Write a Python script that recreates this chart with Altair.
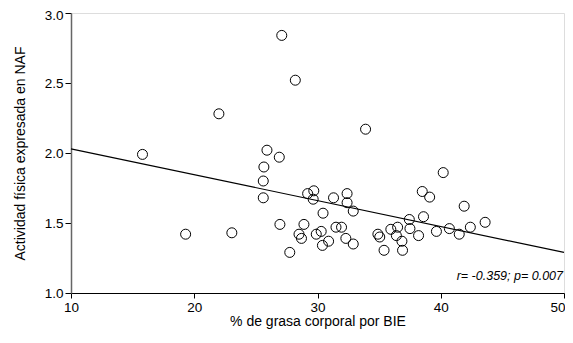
import altair as alt
import pandas as pd

grasa = [15.8, 19.3, 22.0, 23.05, 27.1, 28.2, 25.9, 26.9, 25.65, 25.6, 25.6, 33.9,
         26.95, 27.75, 29.2, 29.7, 29.65, 30.45, 31.3, 32.4, 32.4, 32.9, 28.9, 28.5,
         28.7, 29.9, 30.3, 30.9, 30.4, 31.5, 31.95, 32.3, 32.9, 34.9, 35.05, 35.4,
         35.95, 36.5, 36.4, 36.85, 36.9, 37.5, 37.45, 38.5, 39.1, 38.6, 38.2, 39.65,
         40.2, 41.9, 43.6, 42.4, 40.7, 41.5]
naf = [1.99, 1.42, 2.28, 1.43, 2.84, 2.52, 2.02, 1.97, 1.90, 1.80, 1.68, 2.17,
       1.49, 1.29, 1.71, 1.73, 1.67, 1.57, 1.68, 1.71, 1.645, 1.585, 1.49, 1.42,
       1.39, 1.42, 1.44, 1.37, 1.34, 1.47, 1.47, 1.39, 1.35, 1.42, 1.40, 1.305,
       1.455, 1.47, 1.41, 1.37, 1.305, 1.46, 1.525, 1.725, 1.685, 1.545, 1.41, 1.44,
       1.86, 1.62, 1.505, 1.47, 1.46, 1.42]

line_x = [10, 50]
line_y = [2.03, 1.29]

note_x = [50]
note_y = [1.12]
note_text = ["r= -0.359; p= 0.007"]

x_ticks = [10, 20, 30, 40, 50]
y_ticks = [1.0, 1.5, 2.0, 2.5, 3.0]

FONT = "Liberation Sans"

pts = pd.DataFrame({"x": grasa, "y": naf})
ln = pd.DataFrame({"x": line_x, "y": line_y})
nt = pd.DataFrame({"x": note_x, "y": note_y, "t": note_text})

xscale = alt.Scale(domain=[10, 50], nice=False, zero=False)
yscale = alt.Scale(domain=[1.0, 3.0], nice=False, zero=False)

xaxis = alt.Axis(title="% de grasa corporal por BIE", values=x_ticks, format="d",
                 grid=False, domainColor="black", tickColor="black", tickSize=5,
                 labelFontSize=13.5, titleFontSize=14, labelFont=FONT, titleFont=FONT,
                 labelColor="black", titleColor="black", titleFontWeight="normal",
                 labelFlush=False, labelPadding=2, titlePadding=1,
                 labelAlign=alt.condition("datum.value == 50", alt.value("right"), alt.value("center")),
                 labelOffset=alt.condition("datum.value == 50", alt.value(1), alt.value(0)))
yaxis = alt.Axis(title="Actividad física expresada en NAF", values=y_ticks, format=".1f",
                 grid=False, domainColor="#666666", domainWidth=1.5, tickColor="black", tickSize=6,
                 labelFontSize=13.5, titleFontSize=14, labelFont=FONT, titleFont=FONT,
                 labelColor="black", titleColor="black", titleFontWeight="normal",
                 labelFlush=False, labelPadding=2, titlePadding=17,
                 labelOffset=alt.condition("datum.value == 3", alt.value(2), alt.value(0)))

points = alt.Chart(pts).mark_point(shape="circle", filled=False, color="black",
                                   size=100, strokeWidth=1, opacity=1).encode(
    x=alt.X("x:Q", scale=xscale, axis=xaxis),
    y=alt.Y("y:Q", scale=yscale, axis=yaxis),
)

line = alt.Chart(ln).mark_line(color="black", strokeWidth=1.2).encode(
    x=alt.X("x:Q", scale=xscale),
    y=alt.Y("y:Q", scale=yscale),
)

note = alt.Chart(nt).mark_text(align="right", baseline="middle", fontStyle="italic",
                               fontSize=12.5, font=FONT, color="black", dx=-1).encode(
    x=alt.X("x:Q", scale=xscale),
    y=alt.Y("y:Q", scale=yscale),
    text="t:N",
)

chart = alt.layer(line, points, note).properties(
    width=493, height=280,
    autosize=alt.AutoSizeParams(type="none"),
    padding={"left": 63, "top": 5, "right": 1, "bottom": 42},
).configure_view(stroke=None).configure(background="white")

chart.save("out.html", embed_options={"renderer": "svg", "actions": False})
